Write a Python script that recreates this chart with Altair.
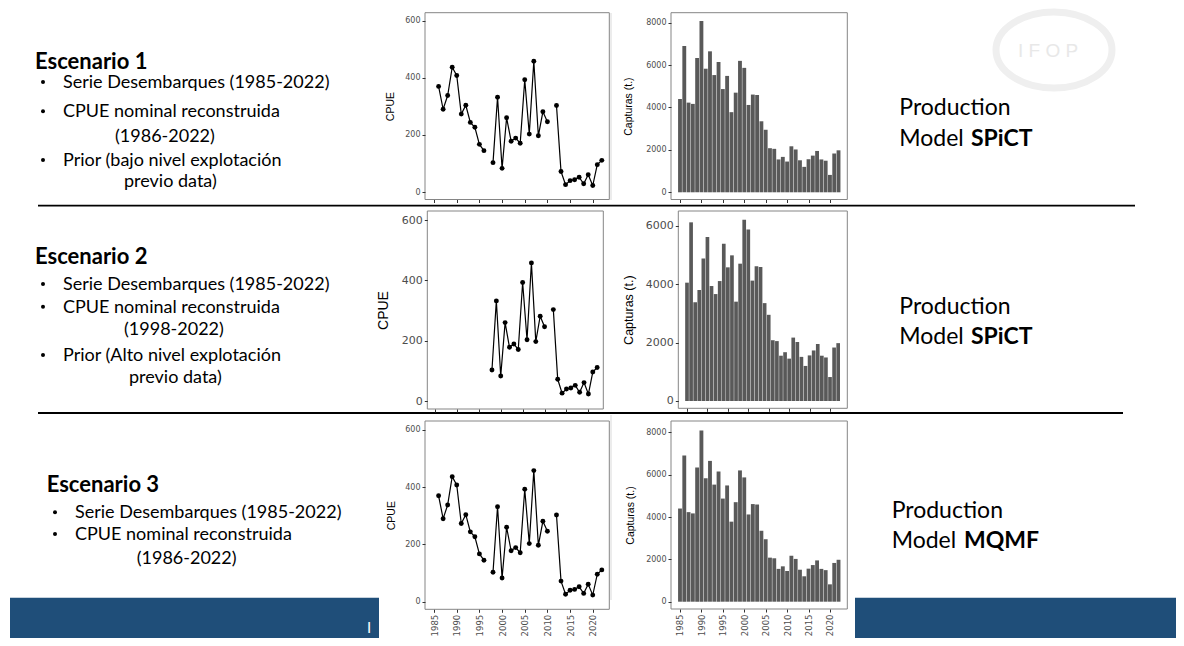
import altair as alt
import pandas as pd

# ---------------- data ----------------
years = list(range(1985, 2023))
cpue = [None, 370, 290, 338, 437, 408, 273, 304, 244, 227, 167, 145, None,
        103, 332, 83, 260, 178, 189, 171, 393, 203, 458, 197, 281, 246, None,
        303, 72, 26, 40, 43, 52, 29, 61, 23, 96, 111]
catch_s1 = [4400, 6900, 4230, 4170, 6340, 8080, 5830, 6650, 5530, 6150,
            4870, 5490, 3780, 4700, 6200, 5870, 4120, 4610, 4590, 3350,
            2950, 2080, 2050, 1550, 1670, 1450, 2170, 2020, 1510, 1200,
            1560, 1730, 1950, 1550, 1490, 820, 1830, 1980]
catch_s2 = [4050, 6115, 3380, 3800, 4880, 5610, 3935, 3660, 4105, 5385,
            4575, 4985, 3400, 4700, 6200, 5870, 4120, 4610, 4590, 3350,
            2950, 2080, 2050, 1550, 1670, 1450, 2170, 2020, 1510, 1200,
            1560, 1730, 1950, 1550, 1490, 820, 1830, 1980]
x_ticks = [1985, 1990, 1995, 2000, 2005, 2010, 2015, 2020]
cpue_ticks = [0, 200, 400, 600]
catch_ticks_8k = [0, 2000, 4000, 6000, 8000]
catch_ticks_6k = [0, 2000, 4000, 6000]

esc_titles = ["Escenario 1", "Escenario 2", "Escenario 3"]
esc1_lines = ["Serie Desembarques (1985-2022)", "CPUE nominal reconstruida", "(1986-2022)",
              "Prior (bajo nivel explotación", "previo data)"]
esc2_lines = ["Serie Desembarques (1985-2022)", "CPUE nominal reconstruida", "(1998-2022)",
              "Prior (Alto nivel explotación", "previo data)"]
esc3_lines = ["Serie Desembarques (1985-2022)", "CPUE nominal reconstruida", "(1986-2022)"]
models = ["SPiCT", "SPiCT", "MQMF"]

W, H = 1168, 630
one = pd.DataFrame({"k": [0]})


def cpue_df(start_year):
    rows, seg = [], 0
    for y, v in zip(years, cpue):
        if y < start_year:
            continue
        if v is None:
            seg += 1
            continue
        rows.append({"year": y, "cpue": v, "seg": seg})
    return pd.DataFrame(rows)


catch_df1 = pd.DataFrame({"year": years, "catch": catch_s1})
catch_df2 = pd.DataFrame({"year": years, "catch": catch_s2})

LAB_COL = "#4d4d4d"
TICK_COL = "#333333"
FRAME_COL = "#858585"


def axis_x(B, show, lab_size):
    return alt.Axis(orient="bottom", offset=B - H, values=x_ticks, format="d",
                    labels=show, labelAngle=270, labelFontSize=lab_size,
                    labelFont="DejaVu Sans", labelColor=LAB_COL, labelPadding=2,
                    tickSize=3, tickColor=TICK_COL, domain=False, grid=False,
                    zindex=1)


def axis_y(L, T, B, ticks, title, lab_size, title_size, title_cx):
    return alt.Axis(orient="left", offset=-L, values=ticks, format="d",
                    labelFontSize=lab_size, labelFont="DejaVu Sans",
                    labelColor=LAB_COL, labelPadding=2, tickSize=3,
                    tickColor=TICK_COL, domain=False, grid=False, zindex=1,
                    title=title, titleFont="Liberation Sans",
                    titleFontSize=title_size, titleFontWeight="normal",
                    titleColor="black", titleAngle=270, titleAlign="center",
                    titleBaseline="middle", titleX=title_cx - L,
                    titleY=(T + B) / 2)


def frame(L, T, R, B):
    return alt.Chart(one).mark_rect(fill="white", stroke=FRAME_COL, strokeWidth=1).encode(
        x=alt.value(L), x2=alt.value(R), y=alt.value(T), y2=alt.value(B))


def cpue_panel(df, box, xdom, ydom, lab, ttl, title_cx, show_x):
    L, T, R, B = box
    xs = alt.Scale(domain=xdom, range=[L, R], nice=False, zero=False)
    ys = alt.Scale(domain=ydom, range=[B, T], nice=False, zero=False)
    xe = alt.X("year:Q", scale=xs, axis=axis_x(B, show_x, 8.5), title=None)
    ye = alt.Y("cpue:Q", scale=ys,
               axis=axis_y(L, T, B, cpue_ticks, "CPUE", lab, ttl, title_cx))
    base = alt.Chart(df).encode(x=xe, y=ye)
    line = base.mark_line(color="black", strokeWidth=1.2).encode(detail="seg:N")
    pts = base.mark_circle(color="black", size=24, opacity=1)
    return alt.layer(line, pts)


def catch_panel(df, box, xdom, ydom, ticks, lab, ttl, title_cx, show_x):
    L, T, R, B = box
    xs = alt.Scale(domain=xdom, range=[L, R], nice=False, zero=False)
    ys = alt.Scale(domain=ydom, range=[B, T], nice=False, zero=False)
    return alt.Chart(df).transform_calculate(
        x0="datum.year - 0.45", x1="datum.year + 0.45"
    ).mark_rect(color="#595959").encode(
        x=alt.X("x0:Q", scale=xs, axis=axis_x(B, show_x, 8.5), title=None),
        x2="x1:Q",
        y=alt.Y("catch:Q", scale=ys,
                axis=axis_y(L, T, B, ticks, "Capturas (t.)", lab, ttl, title_cx)),
        y2=alt.datum(0),
    )


def txt(s, x, y, size, weight="normal", color="black", font="Lato"):
    return alt.Chart(one).mark_text(
        text=s, fontSize=size, fontWeight=weight, font=font, color=color,
        align="left", baseline="alphabetic"
    ).encode(x=alt.value(x), y=alt.value(y))


def hline(x1, x2, y, color="black", width=1.8):
    return alt.Chart(one).mark_rule(color=color, strokeWidth=width).encode(
        x=alt.value(x1), x2=alt.value(x2), y=alt.value(y))


def vline(x, y1, y2, color, width=1):
    return alt.Chart(one).mark_rule(color=color, strokeWidth=width).encode(
        x=alt.value(x), y=alt.value(y1), y2=alt.value(y2))


def bullet(x, y):
    return alt.Chart(one).mark_circle(color="black", size=16, opacity=1).encode(
        x=alt.value(x), y=alt.value(y))


layers = []
# footer banner and white picture backgrounds
layers.append(alt.Chart(one).mark_rect(color="#1f4e79").encode(
    x=alt.value(2), x2=alt.value(W), y=alt.value(589.7), y2=alt.value(H)))
layers.append(alt.Chart(one).mark_rect(color="white").encode(
    x=alt.value(371), x2=alt.value(847), y=alt.value(407), y2=alt.value(H)))
layers.append(txt("I", 359, 625, 15, color="white"))

# IFOP watermark
ellipse = ("M-1,0 C-1,-0.362 -0.552,-0.655 0,-0.655 C0.552,-0.655 1,-0.362 1,0 "
           "C1,0.362 0.552,0.655 0,0.655 C-0.552,0.655 -1,0.362 -1,0 Z")
layers.append(alt.Chart(one).mark_point(shape=ellipse, filled=False, color="#efefef",
                                        strokeWidth=7, opacity=1, size=13456).encode(
    x=alt.value(1046), y=alt.value(42)))
layers.append(txt("I F O P", 1010, 49, 19, color="#e8e8e8", font="Liberation Sans"))

# picture edge lines
layers.append(vline(603, 5, 192, "#d9d9d9"))
layers.append(vline(603, 407, 592, "#d9d9d9"))

# panels
boxes = {
    "c1": (417, 4.7, 601.3, 191.5), "k1": (663, 4.7, 839.3, 191.5),
    "c2": (419.3, 203, 595.3, 401), "k2": (670.3, 203, 839.3, 400.3),
    "c3": (417, 413, 601.3, 601.3), "k3": (663, 413, 839.3, 601),
}
for b in boxes.values():
    layers.append(frame(*b))

layers.append(cpue_panel(cpue_df(1985), boxes["c1"], [1983.0, 2023.65], [-26, 628],
                         8, 10.5, 382.8, False))
layers.append(catch_panel(catch_df1, boxes["k1"], [1982.9, 2024.05], [-340, 8472],
                          catch_ticks_8k, 8, 10.5, 620, False))
layers.append(cpue_panel(cpue_df(1998), boxes["c2"], [1983.25, 2023.4], [-26.5, 630],
                         11, 14, 375, False))
layers.append(catch_panel(catch_df2, boxes["k2"], [1982.87, 2024.23],
                          [-250, 6503], catch_ticks_6k, 11, 12.5, 620, False))
layers.append(cpue_panel(cpue_df(1985), boxes["c3"], [1983.0, 2023.65], [-26.6, 631.4],
                         8, 10.5, 383, True))
layers.append(catch_panel(catch_df1, boxes["k3"], [1982.9, 2024.05], [-345, 8534],
                          catch_ticks_8k, 8, 10.5, 622, True))

# separators
layers.append(hline(30, 1127, 197.7))
layers.append(hline(30, 1115, 405))

# left text blocks
BS = 18
TS = 22
layers.append(txt(esc_titles[0], 27, 60.5, TS, "bold"))
for y in [80, 109.3, 158]:
    layers.append(bullet(35, y - 6))
layers.append(txt(esc1_lines[0], 55, 80, BS))
layers.append(txt(esc1_lines[1], 55, 109.3, BS))
layers.append(txt(esc1_lines[2], 107, 133.7, BS))
layers.append(txt(esc1_lines[3], 55, 158, BS))
layers.append(txt(esc1_lines[4], 116, 178.7, BS))

layers.append(txt(esc_titles[1], 27, 255.5, TS, "bold"))
for y in [282, 304.7, 353]:
    layers.append(bullet(35, y - 6))
layers.append(txt(esc2_lines[0], 55, 282, BS))
layers.append(txt(esc2_lines[1], 55, 304.7, BS))
layers.append(txt(esc2_lines[2], 116, 327, BS))
layers.append(txt(esc2_lines[3], 55, 353, BS))
layers.append(txt(esc2_lines[4], 121, 375.3, BS))

layers.append(txt(esc_titles[2], 38.7, 484.2, TS, "bold"))
for y in [510.3, 532]:
    layers.append(bullet(47, y - 6))
layers.append(txt(esc3_lines[0], 67, 510.3, BS))
layers.append(txt(esc3_lines[1], 67, 532, BS))
layers.append(txt(esc3_lines[2], 128.7, 556, BS))

# right text blocks
RS = 23
for (px, py, mx, my, bx, name) in [
    (891.3, 107, 891.3, 138, 963, models[0]),
    (891.3, 306, 891.3, 336, 963, models[1]),
    (883.7, 510.3, 883.7, 540.3, 956, models[2]),
]:
    layers.append(txt("Production", px, py, RS))
    layers.append(txt("Model", mx, my, RS))
    layers.append(txt(name, bx, my, RS, "bold"))

chart = alt.layer(*layers).resolve_scale(
    x="independent", y="independent"
).properties(
    width=W, height=H, padding=0, autosize=alt.AutoSizeParams(type="none")
).configure_view(strokeWidth=0)

chart.save("out.html", embed_options={"renderer": "svg", "actions": False})
